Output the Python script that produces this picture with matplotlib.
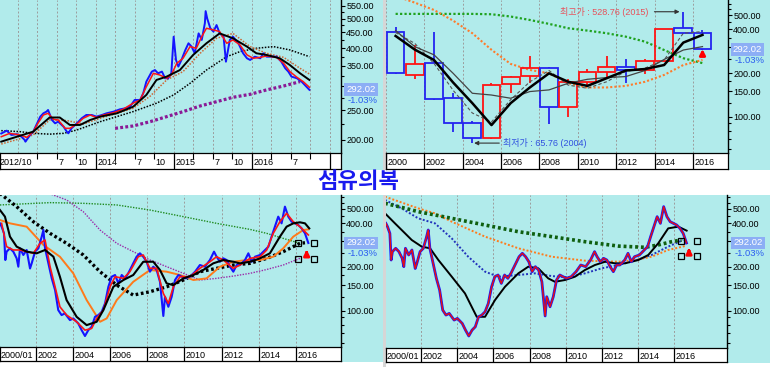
import matplotlib
matplotlib.use('Agg')
import matplotlib.pyplot as plt
from matplotlib.patches import Rectangle
from matplotlib.ticker import FixedLocator, NullFormatter, FuncFormatter
import matplotlib.transforms as mtrans

plt.rcParams['font.family'] = ['Liberation Sans', 'Noto Sans CJK KR', 'DejaVu Sans']

# ------------------------------------------------------------------ data
TITLE = '섬유의복'
LAST = 292.02
CHANGE = '-1.03%'

# top-left: daily, 2012/10 - 2016/9
tl_t = [2012.79, 2012.86, 2012.92, 2012.99, 2013.05, 2013.09, 2013.10, 2013.16, 2013.20, 2013.24, 2013.29, 2013.33,
        2013.37, 2013.39, 2013.44, 2013.48, 2013.52, 2013.59, 2013.63, 2013.65, 2013.69, 2013.76, 2013.82, 2013.88,
        2013.95, 2014.01, 2014.08, 2014.14, 2014.23, 2014.31, 2014.38, 2014.44, 2014.50, 2014.57, 2014.61, 2014.65,
        2014.72, 2014.76, 2014.80, 2014.85, 2014.89, 2014.93, 2014.97, 2015.00, 2015.03, 2015.06, 2015.10, 2015.15,
        2015.19, 2015.23, 2015.27, 2015.32, 2015.36, 2015.40, 2015.41, 2015.43, 2015.47, 2015.51, 2015.55, 2015.59,
        2015.64, 2015.67, 2015.72, 2015.76, 2015.83, 2015.89, 2015.94, 2015.98, 2016.04, 2016.11, 2016.15, 2016.19,
        2016.26, 2016.32, 2016.38, 2016.43, 2016.47, 2016.51, 2016.58, 2016.64, 2016.68, 2016.74]
tl_price = [210, 214.6, 207.7, 209, 205, 200, 197.5, 207.7, 213, 224, 238.5, 244.6,
            247.7, 250.8, 232.6, 226.8, 229.7, 221, 213, 210.3, 218.4, 226.8, 235.5, 241.5,
            241.5, 238.5, 241.5, 244.6, 247.7, 252, 254, 257, 270.5, 270.5, 284.5, 310.7,
            335, 339, 330.8, 335, 318.6, 318.6, 330.8, 436, 365.8, 347.9, 365.8, 394.5,
            414.8, 404.5, 384.7, 447, 425.4, 482.5, 528.76, 500, 464.6, 453, 476, 447,
            436, 361, 425.4, 436, 414.8, 384.7, 370.4, 365.8, 375, 370.4, 384.7, 375,
            375, 375, 361, 343.5, 335, 322.6, 318.6, 310.7, 303, 292.02]
tl_red_t = [2012.79, 2012.90, 2013.03, 2013.12, 2013.20, 2013.26, 2013.33, 2013.39, 2013.46, 2013.52, 2013.61, 2013.67,
            2013.76, 2013.84, 2013.93, 2014.01, 2014.10, 2014.23, 2014.35, 2014.48, 2014.57, 2014.65, 2014.74, 2014.82,
            2014.91, 2014.97, 2015.04, 2015.12, 2015.21, 2015.29, 2015.36, 2015.42, 2015.51, 2015.59, 2015.68, 2015.76,
            2015.85, 2015.94, 2016.02, 2016.11, 2016.19, 2016.32, 2016.41, 2016.49, 2016.58, 2016.66, 2016.74]
tl_red = [205, 210.3, 207.7, 204, 213, 226.8, 241.5, 244.6, 233.8, 232.6, 218.4, 218.4,
          225.6, 235.5, 241.5, 237, 241.5, 245.8, 252, 264, 270.5, 299, 330.8, 326.7,
          318.6, 326.7, 356.7, 370.4, 404.5, 399.5, 436, 464.6, 459, 453, 414.8, 425.4,
          409.7, 380, 370.4, 373, 377, 373, 356.7, 335, 321, 310.7, 297.7]
tl_blk_t = [2012.79, 2012.99, 2013.20, 2013.41, 2013.54, 2013.67, 2013.80, 2013.93, 2014.06, 2014.27, 2014.48, 2014.65,
            2014.78, 2014.91, 2015.08, 2015.25, 2015.42, 2015.59, 2015.76, 2015.94, 2016.06, 2016.19, 2016.36, 2016.49,
            2016.62, 2016.74]
tl_blk = [197.5, 205, 213, 237, 237, 224, 224, 232.6, 238.5, 244.6, 257, 281,
          314.6, 322.6, 339, 380, 414.8, 447, 430.8, 404.5, 384.7, 380, 370.4, 352,
          330.8, 314.6]
tl_org_t = [2012.79, 2013.20, 2013.41, 2013.63, 2013.84, 2014.06, 2014.48, 2014.70, 2014.91, 2015.12, 2015.34, 2015.55,
            2015.76, 2015.98, 2016.19, 2016.41, 2016.62, 2016.74]
tl_org = [194, 207.7, 232.6, 231.6, 225.6, 235.5, 254, 278.5, 314.6, 335, 384.7, 430.8,
          447, 404.5, 384.7, 373, 343.5, 329]
tl_bdot_t = [2012.79, 2013.03, 2013.20, 2013.41, 2013.59, 2013.76, 2014.06, 2014.48, 2014.78, 2015.00, 2015.21, 2015.42,
             2015.68, 2015.85, 2016.06, 2016.28, 2016.49, 2016.74]
tl_bdot = [214.6, 213, 210.3, 209, 210.3, 215.7, 229.7, 247.7, 264, 281, 306.7, 339,
           375, 389.6, 399.5, 404.5, 394.5, 375]
tl_pur_t = [2014.25, 2014.48, 2014.70, 2014.91, 2015.12, 2015.34, 2015.55, 2015.76, 2015.98, 2016.19, 2016.41, 2016.62]
tl_pur = [218.4, 222.3, 229.7, 238.5, 247.7, 258.5, 267, 276, 282.3, 291.8, 300.6, 310.7]
tl_tick_t = [2012.75, 2013.5, 2013.75, 2014.0, 2014.5, 2014.75, 2015.0, 2015.5, 2015.75, 2016.0, 2016.5]
tl_tick_lab = ['2012/10', '7', '10', '2014', '7', '10', '2015', '7', '10', '2016', '7']

# top-right: yearly candles 2000 - 2016
tr_year = list(range(2000, 2017))
tr_open = [386, 193, 233, 135, 90, 71.5, 167, 190, 216, 117, 174, 202, 221, 211, 242, 406, 376]
tr_high = [413, 312, 382, 146, 94, 170, 192, 262, 221, 182, 213, 262, 250, 251, 402, 528.76, 398]
tr_low = [197, 182, 130, 78, 65.76, 70, 146, 172, 89, 99, 163, 186, 171, 197, 240, 372, 290]
tr_close = [199, 231, 132, 90, 71, 165, 189, 216, 117, 174, 202, 221, 211, 242, 400, 376, 292.02]
tr_ma_a = [360, 290, 246, 172, 124, 87.5, 124, 159, 199, 174, 163, 184, 208, 213, 227, 324, 366]
tr_ma_b = [392, 304, 267, 199, 145, 141, 134, 149, 153, 170, 181, 186, 189, 208, 248, 288, 304]
tr_ma_c = [380, 320, 233, 152, 106, 92, 131, 174, 208, 165, 157, 174, 205, 216, 246, 376, 386]
tr_ma_d = [680, 611, 544, 459, 376, 289, 231, 210, 199, 170, 159, 159, 163, 174, 194, 227, 246]
tr_ma_e = [511, 511, 511, 511, 511, 508, 490, 464, 436, 407, 392, 376, 356, 329, 288, 253, 234]
tr_hi_label = '최고가 : 528.76 (2015)'
tr_lo_label = '최저가 : 65.76 (2004)'
tr_tick_t = list(range(2000, 2017, 2))

# bottom: weekly 2000/01 - 2016/9
wk_t = [2000.06, 2000.15, 2000.28, 2000.35, 2000.42, 2000.60, 2000.78, 2000.96, 2001.05, 2001.14, 2001.32, 2001.50,
        2001.68, 2001.77, 2001.95,
        2002.13, 2002.31, 2002.40, 2002.49, 2002.67, 2002.85, 2003.03, 2003.20, 2003.38, 2003.56, 2003.83, 2004.01,
        2004.28, 2004.46, 2004.64, 2004.82, 2005.00, 2005.18, 2005.36, 2005.54, 2005.72, 2005.90, 2006.08, 2006.26,
        2006.44, 2006.62, 2006.80, 2006.97, 2007.15, 2007.42, 2007.60, 2007.78, 2007.96, 2008.14, 2008.32, 2008.50,
        2008.68, 2008.86, 2008.95, 2009.13, 2009.31, 2009.49, 2009.67, 2009.85, 2010.03, 2010.30, 2010.57, 2010.83,
        2011.10, 2011.37, 2011.59, 2011.73, 2011.91, 2012.09, 2012.27, 2012.45, 2012.63, 2012.81, 2012.99, 2013.26,
        2013.44, 2013.62, 2013.80, 2014.07, 2014.34, 2014.52, 2014.69, 2014.87, 2015.05, 2015.23, 2015.41, 2015.59,
        2015.77, 2015.95, 2016.13, 2016.31, 2016.49, 2016.67]
wk_price = [398, 378, 340, 223, 254.6, 268.4, 254.6, 229, 200.7, 268.4, 241.5, 261.4,
            195, 211.6, 254.6,
            268.4, 322.8, 358.6, 268.4, 211.6, 166.8, 138.6, 101, 93.3, 95.8, 86.2, 88.5,
            81.7, 73.5, 67, 73.5, 77.5, 90.8, 93.3, 98.3, 112.2, 146, 171.3, 175.9,
            154, 175.9, 166.8, 180.6, 200.7, 235, 248, 235, 217, 185.4, 200.7, 190.4,
            158, 92, 124.7, 106.4, 124.7, 162.5, 175.9, 171.3, 166.8, 171.3, 185.4, 206,
            200.7, 223, 254.6, 235, 217, 229, 223, 200.7, 185.4, 206, 206, 223,
            248, 217, 235, 241.5, 261.4, 275.6, 322.8, 378, 443, 398.5, 519, 443,
            409, 398.5, 388, 368, 340, 292.02]
bl_red_t = [2000.15, 2000.42, 2000.78, 2001.14, 2001.50, 2001.86, 2002.22, 2002.49, 2002.76, 2003.03, 2003.29, 2003.65,
            2004.19, 2004.64, 2005.00, 2005.27, 2005.63, 2005.99, 2006.26, 2006.71, 2007.06, 2007.51, 2007.78, 2008.14,
            2008.50, 2008.86, 2009.13, 2009.40, 2009.76, 2010.30, 2010.83, 2011.37, 2011.73, 2012.09, 2012.63, 2012.99,
            2013.53, 2014.07, 2014.43, 2014.78, 2015.14, 2015.50, 2015.86, 2016.22, 2016.67]
bl_red = [398.5, 275.6, 261.4, 261.4, 254.6, 248, 290.5, 306, 200.7, 146, 106.4, 93.3,
          83.9, 73.5, 75.5, 88.5, 101, 146, 171.3, 166.8, 185.4, 235, 241.5, 195.5,
          195.5, 131.5, 112.2, 146, 171.3, 171.3, 195.5, 217, 235, 223, 195.5, 206,
          229, 235, 261.4, 340, 409, 467, 409, 378, 331.5]
bl_blk_t = [2000.06, 2000.33, 2000.60, 2000.96, 2001.50, 2002.04, 2002.49, 2002.94, 2003.29, 2003.65, 2004.19, 2004.73,
            2005.27, 2005.63, 2006.17, 2006.71, 2007.24, 2007.78, 2008.32, 2008.68, 2009.04, 2009.40, 2009.94, 2010.48,
            2011.01, 2011.55, 2012.09, 2012.63, 2012.99, 2013.53, 2014.07, 2014.60, 2015.14, 2015.50, 2015.86, 2016.22,
            2016.49, 2016.72]
bl_blk = [492, 443, 322.8, 275.6, 254.6, 248, 261.4, 235, 171.3, 118.3, 90.8, 79.6,
          83.9, 101, 146, 162.5, 175.9, 217, 217, 190.4, 154, 150, 166.8, 175.9,
          190.4, 211.6, 223, 217, 211.6, 217, 229, 248, 322.8, 378, 398.5, 405,
          398.5, 368]
bl_org_t = [2000.06, 2000.60, 2001.50, 2002.40, 2003.29, 2004.01, 2004.73, 2005.18, 2005.45, 2005.81, 2006.35, 2007.24,
            2008.14, 2009.04, 2009.76, 2010.48, 2011.19, 2011.91, 2012.63, 2013.35, 2014.07, 2014.78, 2015.32, 2015.86,
            2016.40, 2016.67]
bl_org = [420, 398.5, 378, 283, 235, 180.6, 118.3, 95.8, 83.9, 88.5, 118.3, 158,
          190.4, 185.4, 175.9, 162.5, 166.8, 200.7, 217, 223, 223, 235, 268.4, 322.8,
          358.6, 362]
bl_bdot_t = [2000.06, 2000.96, 2001.86, 2002.76, 2003.65, 2004.55, 2005.45, 2006.35, 2007.24, 2008.14, 2009.04, 2009.94,
             2010.83, 2011.73, 2012.63, 2013.53, 2014.43, 2015.32, 2016.22, 2016.49]
bl_bdot = [640, 519, 409, 340, 290.5, 241.5, 185.4, 150, 128, 135, 146, 162.5,
           185.4, 195.5, 206, 211.6, 229, 254.6, 290.5, 293]
bl_grn_t = [2000.06, 2001.14, 2002.76, 2004.55, 2006.35, 2008.14, 2009.94, 2011.73, 2013.53, 2014.43, 2015.32, 2016.22]
bl_grn = [533, 541, 553, 547, 533, 492, 443, 398.5, 362, 340, 314, 290.5]
bl_pur_t = [2002.70, 2003.65, 2004.55, 2005.45, 2006.35, 2007.24, 2008.14, 2009.04, 2009.94, 2010.83, 2011.73, 2012.63,
            2013.53, 2014.43, 2015.32, 2016.22]
bl_pur = [640, 577, 479, 358.6, 290.5, 254.6, 223, 200.7, 180.6, 162.5, 166.8, 173,
          180.6, 192, 206, 229]
bl_box_t = [2016.13, 2017.00, 2016.13, 2017.00]
bl_box_v = [290.5, 290.5, 227, 227]

br_blk_t = [2000.01, 2000.56, 2001.12, 2001.49, 2002.04, 2002.50, 2002.96, 2003.70, 2004.43, 2005.08, 2005.54, 2006.09,
            2006.64, 2007.38, 2007.93, 2008.48, 2009.03, 2009.40, 2009.96, 2010.51, 2011.06, 2011.61, 2012.17, 2012.72,
            2013.27, 2014.01, 2014.56, 2015.11, 2015.66, 2016.22, 2016.68]
br_blk = [467, 398.5, 340, 306, 275.6, 268.4, 223, 171.3, 131.5, 90.8, 90.8, 118.3,
          146, 180.6, 200.7, 195.5, 166.8, 158, 162.5, 171.3, 190.4, 206, 217, 211.6,
          211.6, 223, 241.5, 290.5, 368, 378, 355]
br_blu_t = [2000.01, 2000.93, 2001.85, 2002.77, 2003.70, 2004.61, 2005.54, 2006.27, 2007.38, 2008.30, 2009.22, 2010.14,
            2011.06, 2011.98, 2012.90, 2013.82, 2014.74, 2015.66, 2016.49]
br_blu = [577, 505, 431, 398.5, 314, 235, 185.4, 171.3, 175.9, 180.6, 173, 169.4,
          180.6, 195.5, 206, 220.7, 241.5, 275.6, 306]
br_org_t = [2000.01, 2001.85, 2002.77, 2003.70, 2005.54, 2007.38, 2009.22, 2011.06, 2012.90, 2013.82, 2014.74, 2015.66,
            2016.59]
br_org = [608, 505, 467, 409, 322.8, 268.4, 235, 220.7, 217, 223, 235, 261.4, 278]
br_grn_t = [2000.01, 2000.93, 2001.85, 2002.77, 2003.70, 2005.54, 2007.38, 2009.22, 2011.06, 2012.90, 2014.38, 2015.11,
            2015.85, 2016.40]
br_grn = [547, 513, 479, 455, 431, 388, 349, 322.8, 298, 278, 272.6, 283, 298, 306]
br_box_t = [2016.37, 2017.23, 2016.37, 2017.23]
br_box_v = [303, 303, 238, 238]
wk_tick_t = [2000.0] + list(range(2002, 2017, 2))
wk_tick_lab = ['2000/01'] + [str(y) for y in range(2002, 2017, 2)]

# ------------------------------------------------------------------ figure
W, H = 770, 367
fig = plt.figure(figsize=(W / 100, H / 100), dpi=100)
fig.patch.set_facecolor('white')
CYAN = '#b1ebeb'
BLUE = '#1414ff'
RED = '#ff1414'


def frac(x0, y0, x1, y1):
    return [x0 / W, 1 - y1 / H, (x1 - x0) / W, (y1 - y0) / H]


def bg(x0, y0, x1, y1, color):
    fig.patches.append(Rectangle((x0 / W, 1 - y1 / H), (x1 - x0) / W, (y1 - y0) / H,
                                 transform=fig.transFigure, facecolor=color,
                                 edgecolor='none', zorder=-10))


bg(0, 0, 383, 170, CYAN)
bg(386, 0, 770, 170, CYAN)
bg(0, 195, 383, 362, CYAN)
bg(386, 195, 770, 363, CYAN)
bg(383, 0, 386, 170, '#d6d6d6')
bg(383, 195, 386, 367, '#d6d6d6')


def panel(box, strip_bottom, xlim, ylim, ymajor, yminor, grid_x,
          tick_t, tick_lab, full_t, short_t, box_dx, box_dy=11):
    x0, y0, x1, y1 = box
    ax = fig.add_axes(frac(x0, y0, x1, y1))
    ax.set_facecolor(CYAN)
    ax.set_yscale('log')
    ax.set_xlim(*xlim)
    ax.set_ylim(*ylim)
    for s in ('top', 'left', 'bottom'):
        ax.spines[s].set_visible(False)
    ax.spines['right'].set_linewidth(1.0)
    ax.yaxis.tick_right()
    ax.yaxis.set_major_locator(FixedLocator(ymajor))
    ax.yaxis.set_minor_locator(FixedLocator(yminor))
    ax.yaxis.set_major_formatter(FuncFormatter(lambda v, p: '' if abs(v - 300) < 1e-6 else f'{v:.2f}'))
    ax.yaxis.set_minor_formatter(NullFormatter())
    ax.tick_params(axis='y', which='major', length=3, width=0.8, labelsize=6.5, pad=0.8)
    ax.tick_params(axis='y', which='minor', length=1.8, width=0.8)
    ax.set_xticks([])
    for g in grid_x:
        ax.axvline(g, color='#9c9c9c', lw=0.7, ls=(0, (2, 2)), zorder=0.5)

    # last value box
    tr = mtrans.blended_transform_factory(ax.transAxes, ax.transData)
    off = mtrans.offset_copy(tr, fig=fig, x=box_dx, y=0, units='dots')
    ax.text(1.0, LAST, f'{LAST:.2f}', transform=off, ha='center', va='center',
            fontsize=6.8, color='white', clip_on=False,
            bbox=dict(boxstyle='square,pad=0.2', fc='#8caef5', ec='none'))
    off2 = mtrans.offset_copy(tr, fig=fig, x=box_dx + 2, y=-box_dy, units='dots')
    ax.text(1.0, LAST, CHANGE, transform=off2, ha='center', va='center',
            fontsize=6.8, color='#2a5cf0', clip_on=False)

    # x strip
    sx = fig.add_axes(frac(x0, y1, x1, strip_bottom))
    sx.set_facecolor('white')
    sx.set_xlim(*xlim)
    sx.set_ylim(0, 1)
    sx.set_xticks([])
    sx.set_yticks([])
    for s in sx.spines.values():
        s.set_linewidth(0.9)
    sx.vlines(full_t, 0, 1, color='black', lw=0.9)
    if short_t:
        sx.vlines(short_t, 0.62, 1, color='black', lw=0.8)
    toff = mtrans.offset_copy(sx.transData, fig=fig, x=1.5, y=0, units='dots')
    for t, lab in zip(tick_t, tick_lab):
        sx.text(t, 0.42, lab, transform=toff, ha='left', va='center', fontsize=6.5,
                clip_on=True)
    return ax


LOGMAJ = [100, 150, 200, 300, 400, 500]
LOGMIN = [60, 70, 80, 90, 125, 175, 250, 350, 450, 550, 600]

# ---------------- top-left (daily)
q_all = [2013 + 0.25 * i for i in range(17)]
ax1 = panel((0, 0, 341, 153), 169, (2012.774, 2017.145), (181.3, 575),
            [200, 250, 300, 350, 400, 450, 500, 550], [225, 275, 325, 375, 425, 475, 525],
            q_all, tl_tick_t, tl_tick_lab,
            [2012.75, 2014.0, 2015.0, 2016.0, 2017.0],
            [q for q in q_all if abs(q - round(q)) > 1e-6], box_dx=20)
ax1.plot(tl_pur_t, tl_pur, color='#8a1a96', lw=2.3, ls=(0, (0.9, 0.7)))
ax1.plot(tl_bdot_t, tl_bdot, color='black', lw=1.1, ls=(0, (1, 1)))
ax1.plot(tl_org_t, tl_org, color='#cc6633', lw=1.1, ls=(0, (1, 1)))
ax1.plot(tl_t, tl_price, color=BLUE, lw=1.4)
ax1.plot(tl_red_t, tl_red, color=RED, lw=1.1)
ax1.plot(tl_blk_t, tl_blk, color='black', lw=1.4)

# ---------------- top-right (yearly)
ax2 = panel((386, 0, 728, 153), 169, (2000.0, 2017.83), (56.2, 637),
            LOGMAJ, LOGMIN, tr_tick_t, tr_tick_t, [str(y) for y in tr_tick_t],
            tr_tick_t, [], box_dx=19.5)
xc = [y + 0.5 for y in tr_year]
cols = [RED if c >= o else '#2424f0' for o, c in zip(tr_open, tr_close)]
tops = [max(o, c) for o, c in zip(tr_open, tr_close)]
bots = [min(o, c) for o, c in zip(tr_open, tr_close)]
ax2.vlines(xc, tops, tr_high, colors=cols, lw=1.3, zorder=3)
ax2.vlines(xc, tr_low, bots, colors=cols, lw=1.3, zorder=3)
ax2.bar(xc, [t - b for t, b in zip(tops, bots)], bottom=bots, width=0.92,
        fill=False, edgecolor=cols, linewidth=1.3, zorder=3)
ax2.plot(xc, tr_ma_e, color='#1fa21f', lw=1.6, ls=(0, (1, 1)), zorder=2)
ax2.plot(xc, tr_ma_d, color='#ff7b2a', lw=1.5, ls=(0, (1, 1)), zorder=2)
ax2.plot(xc, tr_ma_c, color='#555555', lw=0.8, ls=(0, (3, 2)), zorder=4)
ax2.plot(xc, tr_ma_b, color='#444444', lw=0.9, zorder=4)
ax2.plot(xc, tr_ma_a, color='black', lw=1.8, zorder=4)
ax2.text(2013.7, 528.76, tr_hi_label, color='#e8505a', fontsize=6.5, ha='right', va='center')
ax2.annotate('', xy=(2015.45, 528.76), xytext=(2013.85, 528.76),
             arrowprops=dict(arrowstyle='-|>', color='#333333', lw=0.8, mutation_scale=6))
ax2.text(2006.1, 65.76, tr_lo_label, color='#3050e0', fontsize=6.5, ha='left', va='center')
ax2.annotate('', xy=(2004.45, 65.76), xytext=(2006.05, 65.76),
             arrowprops=dict(arrowstyle='-|>', color='#333333', lw=0.8, mutation_scale=6))
ax2.annotate('', xy=(2016.5, 306), xytext=(2016.5, 252),
             arrowprops=dict(arrowstyle='-|>', color='red', lw=2.0, mutation_scale=8))

# ---------------- bottom-left (weekly)
ax3 = panel((0, 195, 341, 347), 361, (2000.063, 2018.43), (56.3, 624),
            LOGMAJ, LOGMIN, list(range(2002, 2017, 2)), wk_tick_t, wk_tick_lab,
            wk_tick_t, [], box_dx=20)
ax3.plot(bl_grn_t, bl_grn, color='#1f8a1f', lw=1.0, ls=(0, (1, 1)))
ax3.plot(bl_pur_t, bl_pur, color='#9a2aa8', lw=1.0, ls=(0, (1, 1)))
ax3.plot(bl_bdot_t, bl_bdot, color='black', lw=2.4, ls=(0, (0.8, 0.8)))
ax3.plot(bl_org_t, bl_org, color='#ff7a1a', lw=1.4)
ax3.plot(wk_t, wk_price, color=BLUE, lw=1.5)
ax3.plot(bl_red_t, bl_red, color=RED, lw=1.2)
ax3.plot(bl_blk_t, bl_blk, color='black', lw=1.5)
ax3.plot(bl_box_t, bl_box_v, ls='none', marker='s', ms=4, mfc='none', mec='black', mew=0.9)
ax3.annotate('', xy=(2016.58, 275), xytext=(2016.58, 233),
             arrowprops=dict(arrowstyle='-|>', color='red', lw=2.0, mutation_scale=8))

# ---------------- bottom-right (weekly)
ax4 = panel((386, 195, 727, 348), 362, (2000.066, 2018.91), (55.4, 624),
            LOGMAJ, LOGMIN, list(range(2002, 2017, 2)), wk_tick_t, wk_tick_lab,
            wk_tick_t, [], box_dx=21)
ax4.plot(br_org_t, br_org, color='#ff7a1a', lw=1.4, ls=(0, (1, 1)))
ax4.plot(br_blu_t, br_blu, color='#2233bb', lw=1.4, ls=(0, (1, 1)))
ax4.plot(br_grn_t, br_grn, color='#0f5f0f', lw=2.6, ls=(0, (0.8, 0.8)))
ax4.plot(br_blk_t, br_blk, color='black', lw=1.4)
ax4.plot(wk_t, wk_price, color=BLUE, lw=2.0)
ax4.plot(wk_t, wk_price, color='#e81010', lw=1.0)
ax4.plot(br_box_t, br_box_v, ls='none', marker='s', ms=4, mfc='none', mec='black', mew=0.9)
ax4.annotate('', xy=(2016.81, 283), xytext=(2016.81, 240),
             arrowprops=dict(arrowstyle='-|>', color='red', lw=2.0, mutation_scale=8))

# ---------------- title
fig.text(358 / W, 1 - 182 / H, TITLE, color='#1a1aee', fontsize=16, fontweight='bold',
         ha='center', va='center', family=['Noto Sans CJK KR', 'DejaVu Sans'])

fig.savefig('out.png', dpi=100)
